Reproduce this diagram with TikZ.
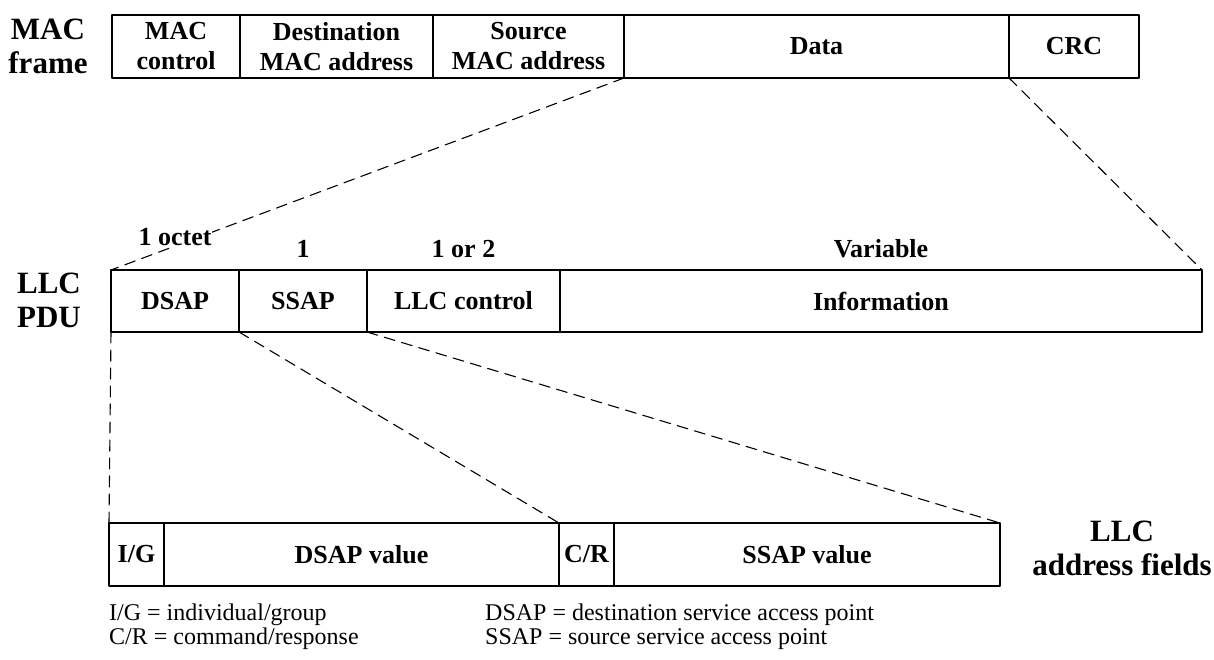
\documentclass[tikz,border=0pt]{standalone}
\usepackage{fontspec}
\setmainfont{Liberation Serif}
\newcommand\fieldfont{\fontsize{26}{30}\selectfont\bfseries}
\newcommand\namefont{\fontsize{31}{34}\selectfont\bfseries}
\newcommand\notefont{\fontsize{24}{26}\selectfont}
\begin{document}
\begin{tikzpicture}[x=1pt,y=-1pt,line cap=round,line join=round,
    field/.style={draw,line width=1.6pt,inner sep=0pt,outer sep=0pt,
      anchor=west,align=center,font=\fieldfont},
    conn/.style={line width=1.1pt,dash pattern=on 11pt off 7pt},
    sizelabel/.style={font=\fieldfont,fill=white,inner sep=1pt},
    unitname/.style={font=\namefont,align=center,inner sep=0pt},
    note/.style={font=\notefont,anchor=west,inner sep=0pt}]
    \useasboundingbox (0,0) rectangle (1214,659);

    % MAC frame
    \node[unitname] (macname) at (48,46) {MAC\\frame};
    \node[field,minimum width=128pt,minimum height=63pt] (macctl) at (112,46.5) {MAC\\control};
    \node[field,minimum width=193pt,minimum height=63pt] (dstmac) at (240,46.5) {Destination\\MAC address};
    \node[field,minimum width=191pt,minimum height=63pt] (srcmac) at (433,46.5) {Source\\MAC address};
    \node[field,minimum width=385pt,minimum height=63pt] (data) at (624,46.5) {Data};
    \node[field,minimum width=130pt,minimum height=63pt] (crc) at (1009,46.5) {CRC};

    % LLC PDU
    \node[unitname] (pduname) at (49,300) {LLC\\PDU};
    \node[field,minimum width=128pt,minimum height=62pt] (dsap) at (111,301) {DSAP};
    \node[field,minimum width=128pt,minimum height=62pt] (ssap) at (239,301) {SSAP};
    \node[field,minimum width=193pt,minimum height=62pt] (llcctl) at (367,301) {LLC control};
    \node[field,minimum width=642pt,minimum height=62pt] (info) at (560,301) {Information};

    % LLC address fields
    \node[unitname] (addrname) at (1122,548) {LLC\\address fields};
    \node[field,minimum width=55pt,minimum height=63pt] (ig) at (109,554.5) {I/G};
    \node[field,minimum width=395pt,minimum height=63pt] (dsapval) at (164,554.5) {DSAP value};
    \node[field,minimum width=55pt,minimum height=63pt] (cr) at (559,554.5) {C/R};
    \node[field,minimum width=386pt,minimum height=63pt] (ssapval) at (614,554.5) {SSAP value};

    % Dashed expansions
    \draw[conn] (srcmac.south east) -- (dsap.north west);
    \draw[conn] (crc.south west) -- (info.north east);
    \draw[conn] (dsap.south west) -- (ig.north west);
    \draw[conn] (ssap.south west) -- (cr.north west);
    \draw[conn] (llcctl.south west) -- (ssapval.north east);

    % Field sizes (over the dashed line)
    \node[sizelabel] (octet) at (175,237) {1 octet};
    \node[sizelabel] (one) at (303,249) {1};
    \node[sizelabel] (oneortwo) at (463.5,249) {1 or 2};
    \node[sizelabel] (variable) at (881,249) {Variable};

    % Key
    \node[note] (keyig) at (109,615) {I/G = individual/group};
    \node[note] (keycr) at (109,639) {C/R = command/response};
    \node[note] (keydsap) at (485,615) {DSAP = destination service access point};
    \node[note] (keyssap) at (485,639) {SSAP = source service access point};
\end{tikzpicture}
\end{document}
